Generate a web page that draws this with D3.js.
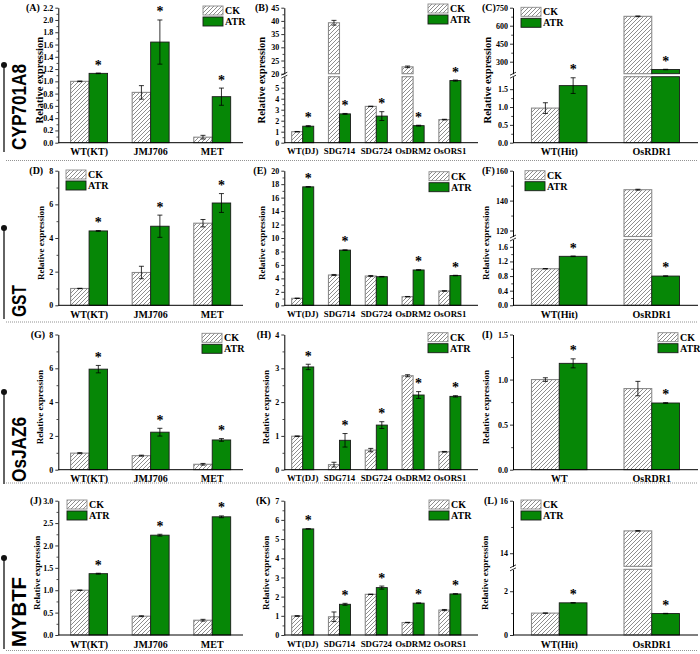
<!DOCTYPE html>
<html><head><meta charset="utf-8">
<script src="https://cdn.jsdelivr.net/npm/d3@7"></script>
<style>body{margin:0;background:#fff}</style>
</head><body><svg id="c" width="700" height="654" xmlns="http://www.w3.org/2000/svg"></svg>
<script>
// ---------------- DATA ----------------
const genes = ["CYP701A8", "GST", "OsJAZ6", "MYBTF"];
const seriesNames = ["CK", "ATR"];
const catsKT = ["WT(KT)", "JMJ706", "MET"];
const catsDJ = ["WT(DJ)", "SDG714", "SDG724", "OsDRM2", "OsORS1"];
const catsHit = ["WT(Hit)", "OsRDR1"];
const catsWT = ["WT", "OsRDR1"];

// (A) CYP701A8
const ckA = [1.0, 0.82, 0.09], ckErrA = [0.005, 0.11, 0.03];
const atrA = [1.13, 1.64, 0.75], atrErrA = [0.005, 0.36, 0.14];
const starA = [1, 1, 1];
const ticksA = [0, 0.2, 0.4, 0.6, 0.8, 1.0, 1.2, 1.4, 1.6, 1.8, 2.0, 2.2];
// (B)
const ckB = [1.0, 39.3, 3.3, 22.6, 2.1], ckErrB = [0.02, 0.9, 0.02, 0.3, 0.03];
const atrB = [1.5, 2.62, 2.42, 1.55, 5.65], atrErrB = [0.05, 0.04, 0.4, 0.04, 0.05];
const starB = [1, 1, 1, 1, 1];
const ticksLowB = [0, 1, 2, 3, 4, 5], ticksHighB = [20, 25, 30, 35, 40, 45];
const breakB = [6, 20];
// (C)
const ckC = [0.97, 678], ckErrC = [0.15, 3];
const atrC = [1.6, 235], atrErrC = [0.22, 2];
const starC = [1, 1];
const ticksLowC = [0, 0.5, 1.0, 1.5], ticksHighC = [300, 450, 600, 750];
const breakC = [1.85, 200];
// (D) GST
const ckD = [1.0, 1.95, 4.88], ckErrD = [0.01, 0.37, 0.22];
const atrD = [4.42, 4.7, 6.08], atrErrD = [0.02, 0.66, 0.56];
const starD = [1, 1, 1];
const ticksD = [0, 2, 4, 6, 8];
// (E)
const ckE = [1.04, 4.5, 4.35, 1.28, 2.13], ckErrE = [0.03, 0.08, 0.08, 0.03, 0.04];
const atrE = [17.6, 8.2, 4.25, 5.25, 4.42], atrErrE = [0.04, 0.04, 0.04, 0.04, 0.04];
const starE = [1, 1, 0, 1, 1];
const ticksE = [0, 2, 4, 6, 8, 10, 12, 14, 16, 18, 20];
// (F)
const ckF = [1.0, 147.3], ckErrF = [0.005, 0.3];
const atrF = [1.34, 0.8], atrErrF = [0.008, 0.004];
const starF = [1, 1];
const ticksLowF = [0, 0.4, 0.8, 1.2, 1.6], ticksHighF = [120, 140, 160];
const breakF = [1.8, 116];
// (G) OsJAZ6
const ckG = [0.98, 0.83, 0.32], ckErrG = [0.03, 0.03, 0.05];
const atrG = [5.95, 2.22, 1.76], atrErrG = [0.22, 0.23, 0.08];
const starG = [1, 1, 1];
const ticksG = [0, 2, 4, 6, 8];
// (H)
const ckH = [0.99, 0.15, 0.58, 2.78, 0.53], ckErrH = [0.01, 0.07, 0.05, 0.03, 0.01];
const atrH = [3.04, 0.87, 1.32, 2.21, 2.17], atrErrH = [0.08, 0.2, 0.1, 0.1, 0.02];
const starH = [1, 1, 1, 1, 1];
const ticksH = [0, 1, 2, 3, 4];
// (I)
const ckI = [1.0, 0.9], ckErrI = [0.02, 0.08];
const atrI = [1.18, 0.74], atrErrI = [0.05, 0.004];
const starI = [1, 1];
const ticksI = [0, 0.5, 1.0, 1.5];
// (J) MYBTF
const ckJ = [1.0, 0.42, 0.33], ckErrJ = [0.005, 0.01, 0.02];
const atrJ = [1.37, 2.23, 2.64], atrErrJ = [0.01, 0.02, 0.02];
const starJ = [1, 1, 1];
const ticksJ = [0, 0.5, 1.0, 1.5, 2.0, 2.5, 3.0];
// (K)
const ckK = [0.99, 0.95, 2.12, 0.65, 1.3], ckErrK = [0.02, 0.25, 0.01, 0.01, 0.03];
const atrK = [5.53, 1.6, 2.47, 1.66, 2.14], atrErrK = [0.01, 0.05, 0.08, 0.01, 0.01];
const starK = [1, 1, 1, 1, 1];
const ticksK = [0, 1, 2, 3, 4, 5, 6, 7];
// (L)
const ckL = [1.0, 14.85], ckErrL = [0.005, 0.01];
const atrL = [1.47, 0.98], atrErrL = [0.01, 0.01];
const starL = [1, 1];
const ticksLowL = [0, 2], ticksHighL = [14, 16];
const breakL = [3, 13.5];

const panels = [
  {id:"A", cats:catsKT, ck:ckA, ckErr:ckErrA, atr:atrA, atrErr:atrErrA, star:starA, ticks:ticksA, max:2.2, fmt:".1f"},
  {id:"B", cats:catsDJ, ck:ckB, ckErr:ckErrB, atr:atrB, atrErr:atrErrB, star:starB, ticksLow:ticksLowB, ticksHigh:ticksHighB, brk:breakB, max:45, fmt:"d", fmtHigh:"d"},
  {id:"C", cats:catsHit, ck:ckC, ckErr:ckErrC, atr:atrC, atrErr:atrErrC, star:starC, ticksLow:ticksLowC, ticksHigh:ticksHighC, brk:breakC, max:750, fmt:".1f", fmtHigh:"d"},
  {id:"D", cats:catsKT, ck:ckD, ckErr:ckErrD, atr:atrD, atrErr:atrErrD, star:starD, ticks:ticksD, max:8, fmt:"d"},
  {id:"E", cats:catsDJ, ck:ckE, ckErr:ckErrE, atr:atrE, atrErr:atrErrE, star:starE, ticks:ticksE, max:20, fmt:"d"},
  {id:"F", cats:catsHit, ck:ckF, ckErr:ckErrF, atr:atrF, atrErr:atrErrF, star:starF, ticksLow:ticksLowF, ticksHigh:ticksHighF, brk:breakF, max:160, fmt:".1f", fmtHigh:"d"},
  {id:"G", cats:catsKT, ck:ckG, ckErr:ckErrG, atr:atrG, atrErr:atrErrG, star:starG, ticks:ticksG, max:8, fmt:"d"},
  {id:"H", cats:catsDJ, ck:ckH, ckErr:ckErrH, atr:atrH, atrErr:atrErrH, star:starH, ticks:ticksH, max:4, fmt:"d"},
  {id:"I", cats:catsWT, ck:ckI, ckErr:ckErrI, atr:atrI, atrErr:atrErrI, star:starI, ticks:ticksI, max:1.5, fmt:".1f"},
  {id:"J", cats:catsKT, ck:ckJ, ckErr:ckErrJ, atr:atrJ, atrErr:atrErrJ, star:starJ, ticks:ticksJ, max:3.0, fmt:".1f"},
  {id:"K", cats:catsDJ, ck:ckK, ckErr:ckErrK, atr:atrK, atrErr:atrErrK, star:starK, ticks:ticksK, max:7, fmt:"d"},
  {id:"L", cats:catsHit, ck:ckL, ckErr:ckErrL, atr:atrL, atrErr:atrErrL, star:starL, ticksLow:ticksLowL, ticksHigh:ticksHighL, brk:breakL, max:16, fmt:"d", fmtHigh:"d"}
];

// ---------------- LAYOUT ----------------
const colX = [[58.3, 243, 243], [284.3, 468.3, 478], [513, 698, 698]];
const rowY = [[142.7, 7.7], [305.3, 170.7], [469.7, 334.5], [635, 500.7]];
const legendPos = {A:[203,6],B:[428,4],C:[521,7.3],D:[66,170],E:[429,171.7],F:[525,170.7],
  G:[202,333.3],H:[428,332.7],I:[658,332.7],J:[67,500],K:[429,500],L:[521,500]};
const yLabelX = {A:40,B:262.3,C:487.5,D:41.7,E:262.7,F:486.7,G:40.7,H:266.7,I:486.7,J:37.3,K:266.7,L:485};
const letterX = {A:26,B:255,C:482,D:29.3,E:253.3,F:482,G:30.7,H:256.7,I:482,J:30,K:256,L:484};
const sepY = [160.5, 322, 483, 650.5];
const geneDotY = [65, 228, 392, 558];
const geneBottom = [150, 317, 482, 647];
const geneLen = [86, 32, 65, 70];

const SERIF = "'Liberation Serif','Times New Roman',serif";
const SANS = "'Liberation Sans',Arial,sans-serif";
const GREEN = "#068706";

const svg = d3.select("#c");
const defs = svg.append("defs");
const pat = defs.append("pattern").attr("id", "hatch").attr("patternUnits", "userSpaceOnUse")
  .attr("width", 4).attr("height", 4);
pat.append("rect").attr("width", 4).attr("height", 4).attr("fill", "#fff");
pat.append("path").attr("d", "M-1,1 l2,-2 M0,4 l4,-4 M3,5 l2,-2")
  .attr("stroke", "#808080").attr("stroke-width", 0.9);

// separators
sepY.forEach(y => svg.append("line").attr("x1", 6).attr("x2", 698).attr("y1", y).attr("y2", y)
  .attr("stroke", "#777").attr("stroke-width", 0.8).attr("stroke-dasharray", "1,1"));

// gene labels
genes.forEach((g, i) => {
  svg.append("line").attr("x1", 4).attr("x2", 4).attr("y1", geneDotY[i]).attr("y2", geneBottom[i] + 2)
    .attr("stroke", "#222").attr("stroke-width", 1.4);
  svg.append("circle").attr("cx", 4).attr("cy", geneDotY[i]).attr("r", 3).attr("fill", "#111");
  svg.append("text").attr("transform", `translate(26,${geneBottom[i]}) rotate(-90)`)
    .attr("font-family", SANS).attr("font-weight", "bold").attr("font-size", 21)
    .attr("textLength", geneLen[i]).attr("lengthAdjust", "spacingAndGlyphs")
    .attr("fill", "#000").text(g);
});

panels.forEach((p, idx) => {
  const r = Math.floor(idx / 3), c = idx % 3;
  const [bx0, bx1, axEnd] = colX[c];
  const [bottom, top] = rowY[r];
  const g = svg.append("g");
  const x = d3.scaleBand().domain(p.cats).range([bx0, bx1]).padding(0);
  const bw = x.step() * 0.3;
  const gap = 3;
  let Y, segTopLow, segBotHigh, yLow, yHigh;
  if (p.brk) {
    const segH = (bottom - top - gap) / 2;
    yLow = d3.scaleLinear().domain([0, p.brk[0]]).range([bottom, bottom - segH]);
    yHigh = d3.scaleLinear().domain([p.brk[1], p.max]).range([top + segH, top]);
    segTopLow = bottom - segH; segBotHigh = top + segH;
    Y = v => v <= p.brk[0] ? yLow(v) : yHigh(v);
  } else {
    yLow = d3.scaleLinear().domain([0, p.max]).range([bottom, top]);
    Y = v => yLow(v);
  }
  const series = [
    {vals: p.ck, err: p.ckErr, off: -bw, fill: "url(#hatch)", stroke: "#8a8a8a", sw: 1.1},
    {vals: p.atr, err: p.atrErr, off: 0, fill: GREEN, stroke: "#1a1a1a", sw: 0.9}
  ];
  series.forEach(s => {
    p.cats.forEach((cat, i) => {
      const v = s.vals[i];
      const xl = x(cat) + x.step() / 2 + s.off;
      if (p.brk && v > p.brk[0]) {
        g.append("rect").attr("x", xl).attr("width", bw).attr("y", segTopLow).attr("height", bottom - segTopLow)
          .attr("fill", s.fill).attr("stroke", s.stroke).attr("stroke-width", s.sw);
        g.append("rect").attr("x", xl).attr("width", bw).attr("y", yHigh(v)).attr("height", segBotHigh - yHigh(v))
          .attr("fill", s.fill).attr("stroke", s.stroke).attr("stroke-width", s.sw);
      } else {
        g.append("rect").attr("x", xl).attr("width", bw).attr("y", Y(v)).attr("height", bottom - Y(v))
          .attr("fill", s.fill).attr("stroke", s.stroke).attr("stroke-width", s.sw);
      }
      const e = s.err[i], xc = xl + bw / 2;
      const yt = Y(v + e), yb = Y(Math.max(0, v - e));
      g.append("line").attr("x1", xc).attr("x2", xc).attr("y1", yt).attr("y2", yb).attr("stroke", "#000").attr("stroke-width", 0.8);
      [yt, yb].forEach(yy => g.append("line").attr("x1", xc - 2.5).attr("x2", xc + 2.5).attr("y1", yy).attr("y2", yy)
        .attr("stroke", "#000").attr("stroke-width", 0.8));
    });
  });
  // stars
  p.cats.forEach((cat, i) => {
    if (!p.star[i]) return;
    const xc = x(cat) + x.step() / 2 + bw / 2;
    const yt = Y(p.atr[i] + p.atrErr[i]);
    g.append("text").attr("x", xc).attr("y", yt - 3.5).attr("text-anchor", "middle")
      .attr("font-family", SERIF).attr("font-weight", "bold").attr("font-size", 14).text("*");
  });
  // y axis
  const styleAxis = sel => {
    sel.selectAll("text").attr("font-family", SERIF).attr("font-weight", "bold").attr("font-size", 8).attr("fill", "#000");
    sel.selectAll("line").attr("stroke", "#000").attr("stroke-width", 0.8);
    sel.select(".domain").attr("stroke", "#000").attr("stroke-width", 1);
  };
  const addMinor = (scale, ticks) => {
    const m = [];
    for (let k = 0; k < ticks.length - 1; k++) m.push((ticks[k] + ticks[k + 1]) / 2);
    const ax = g.append("g").attr("transform", `translate(${bx0},0)`)
      .call(d3.axisLeft(scale).tickValues(m).tickSize(1.8).tickFormat("").tickSizeOuter(0));
    ax.select(".domain").remove();
    ax.selectAll("line").attr("stroke", "#000").attr("stroke-width", 0.7);
  };
  if (p.brk) {
    const a1 = g.append("g").attr("transform", `translate(${bx0},0)`)
      .call(d3.axisLeft(yLow).tickValues(p.ticksLow).tickFormat(d3.format(p.fmt)).tickSize(3).tickPadding(2).tickSizeOuter(0));
    styleAxis(a1);
    const a2 = g.append("g").attr("transform", `translate(${bx0},0)`)
      .call(d3.axisLeft(yHigh).tickValues(p.ticksHigh).tickFormat(d3.format(p.fmtHigh)).tickSize(3).tickPadding(2).tickSizeOuter(0));
    styleAxis(a2);
    addMinor(yLow, p.ticksLow.concat([p.ticksLow[p.ticksLow.length-1] + (p.ticksLow[1]-p.ticksLow[0])]).filter(v => v <= p.brk[0]));
    addMinor(yHigh, p.ticksHigh);
    [segTopLow, segBotHigh].forEach(yy => g.append("line").attr("x1", bx0 - 3).attr("x2", bx0 + 3)
      .attr("y1", yy + 1.5).attr("y2", yy - 1.5).attr("stroke", "#000").attr("stroke-width", 0.8));
  } else {
    const a = g.append("g").attr("transform", `translate(${bx0},0)`)
      .call(d3.axisLeft(yLow).tickValues(p.ticks).tickFormat(d3.format(p.fmt)).tickSize(3).tickPadding(2).tickSizeOuter(0));
    styleAxis(a);
    addMinor(yLow, p.ticks);
  }
  // x axis
  const xfs = p.cats.length > 3 ? 8.8 : 10;
  const xa = g.append("g").attr("transform", `translate(0,${bottom})`)
    .call(d3.axisBottom(x).tickSize(0).tickPadding(5.4));
  xa.select(".domain").remove();
  xa.selectAll("text").attr("font-family", SERIF).attr("font-weight", "bold").attr("font-size", xfs).attr("fill", "#000");
  g.append("line").attr("x1", bx0).attr("x2", axEnd).attr("y1", bottom).attr("y2", bottom)
    .attr("stroke", "#000").attr("stroke-width", 1);
  // y label
  const fs = r === 0 ? 10.5 : 9;
  g.append("text").attr("transform", `translate(${yLabelX[p.id] + fs * 0.3},${(top + bottom) / 2 + 5}) rotate(-90)`)
    .attr("text-anchor", "middle").attr("font-family", SERIF).attr("font-weight", "bold").attr("font-size", fs)
    .text("Relative expression");
  // panel letter
  g.append("text").attr("x", letterX[p.id]).attr("y", top + 3.5).attr("font-family", SERIF)
    .attr("font-weight", "bold").attr("font-size", 10).text(`(${p.id})`);
  // legend
  const [lx, ly] = legendPos[p.id];
  seriesNames.forEach((nm, k) => {
    g.append("rect").attr("x", lx).attr("y", ly + k * 11).attr("width", 20).attr("height", 9)
      .attr("fill", k === 0 ? "url(#hatch)" : GREEN).attr("stroke", k === 0 ? "#8a8a8a" : "#1a1a1a").attr("stroke-width", 0.9);
    g.append("text").attr("x", lx + 22).attr("y", ly + k * 11 + 8).attr("font-family", SERIF)
      .attr("font-weight", "bold").attr("font-size", 10).text(nm);
  });
});
</script></body></html>
